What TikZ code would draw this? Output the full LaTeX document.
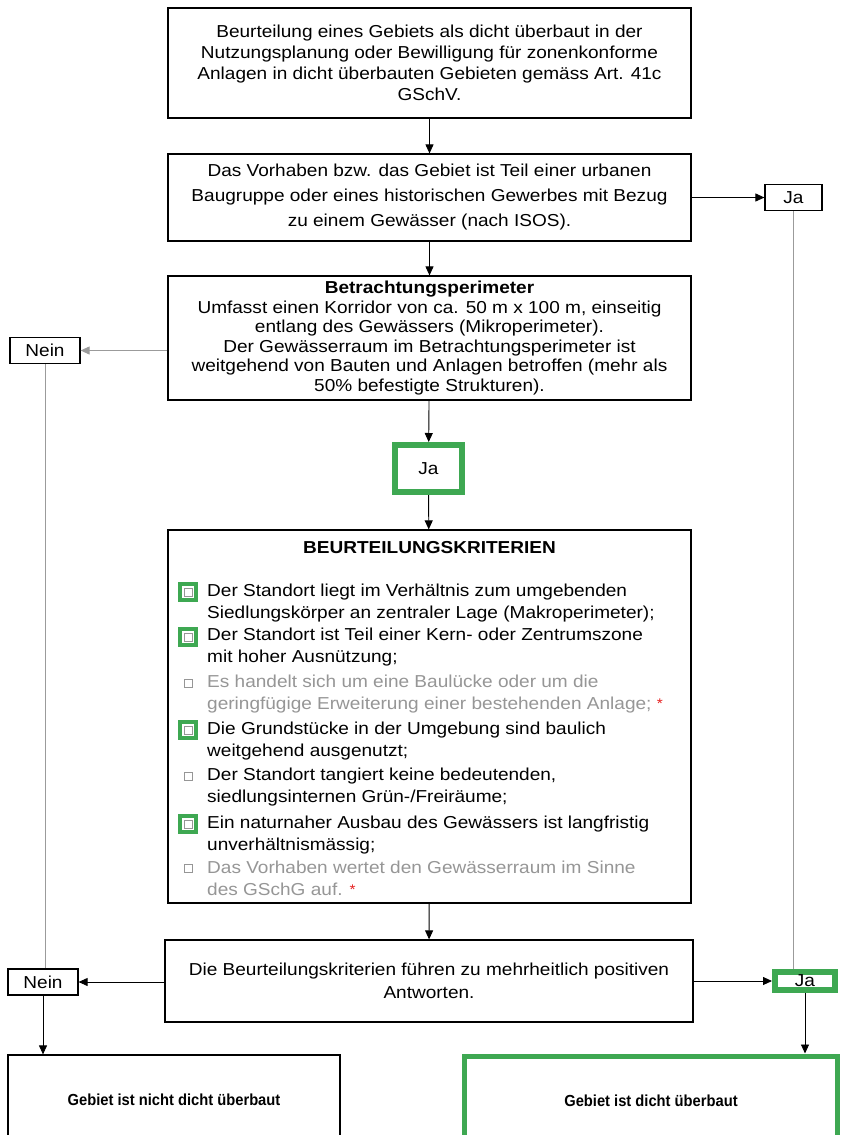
\documentclass[tikz,border=0pt]{standalone}
\usepackage{fontspec}
\setmainfont[FakeStretch=1.1]{Liberation Sans}
\newfontfamily\ergebnisfont[FakeStretch=0.92]{Liberation Sans}
\usetikzlibrary{arrows.meta, positioning, calc}
\definecolor{kritgruen}{RGB}{62,168,82}
\definecolor{kritgrau}{RGB}{150,150,150}
\definecolor{liniengrau}{RGB}{155,155,155}
\definecolor{sternrot}{RGB}{230,30,30}
\newcommand{\stern}{\textcolor{sternrot}{\raisebox{1pt}{\fontsize{14}{14}\selectfont *}}}

\tikzset{
  zeilen/.style={font=\fontsize{17.3}{#1}\selectfont},
  flowbox/.style={draw, line width=1.2pt, minimum width=523pt, align=center, inner sep=0pt},
  antwort/.style={draw, line width=1.2pt, minimum width=#1, minimum height=26pt, inner sep=0pt},
  gruenrand/.style={draw=kritgruen, line width=#1},
  ergebnis/.style={minimum height=90pt, font=\ergebnisfont\fontsize{16}{20}\selectfont\bfseries},
  pfeil/.style={-{Triangle[length=9pt,width=8pt]}, line width=0.9pt},
  kriterium/.style={anchor=west, align=left, inner sep=0pt, zeilen=22},
}

\begin{document}
\begin{tikzpicture}[x=1pt, y=-1pt, zeilen=21]
  \path[use as bounding box, fill=white] (0,0) rectangle (843,1135);

  % Fragen
  \node[flowbox, minimum height=110pt] (frage1) at (429.5,63)
    {Beurteilung eines Gebiets als dicht überbaut in der\\
     Nutzungsplanung  oder Bewilligung für zonenkonforme\\
     Anlagen in dicht überbauten Gebieten gemäss Art. 41c\\
     GSchV.};
  \node[flowbox, minimum height=87pt, zeilen=25] (frage2) at (429.5,197.5)
    {Das Vorhaben bzw. das Gebiet ist Teil einer urbanen\\
     Baugruppe oder eines historischen Gewerbes mit Bezug\\
     zu einem Gewässer (nach ISOS).};
  \node[flowbox, minimum height=124pt, zeilen=19.6] (perimeter) at (429.5,338)
    {\textbf{Betrachtungsperimeter}\\
     Umfasst einen Korridor von ca. 50 m x 100 m, einseitig\\
     entlang des Gewässers (Mikroperimeter).\\
     Der Gewässerraum im Betrachtungsperimeter ist\\
     weitgehend von Bauten und Anlagen betroffen (mehr als\\
     50\% befestigte Strukturen).};
  \node[flowbox, minimum height=373pt] (kriterien) at (429.5,716.5) {};
  \node[inner sep=0pt, font=\fontsize{17.3}{21}\selectfont\bfseries] (kriterientitel) at (429.5,548) {BEURTEILUNGSKRITERIEN};
  \node[flowbox, minimum width=528pt, minimum height=82pt, zeilen=23] (frage3) at (429,981)
    {Die Beurteilungskriterien führen zu mehrheitlich positiven\\
     Antworten.};

  % Antworten
  \node[antwort=57pt] (ja1) at (793.5,197.5) {Ja};
  \node[antwort=70pt] (nein1) at (45,350.5) {Nein};
  \node[gruenrand=6pt, minimum width=67pt, minimum height=47pt, inner sep=0pt] (ja2) at (428.5,468.5) {Ja};
  \node[antwort=70pt] (nein2) at (43,982) {Nein};
  \node[gruenrand=6pt, minimum width=60pt, minimum height=18pt, inner sep=0pt] (ja3) at (805,981) {Ja};

  % Ergebnis
  \node[draw, line width=1.2pt, minimum width=332pt, ergebnis] (nichtdicht) at (174,1100) {Gebiet ist nicht dicht überbaut};
  \node[gruenrand=5pt, minimum width=373pt, ergebnis] (dicht) at (651,1101) {Gebiet ist dicht überbaut};

  % Kriterien
  \node[kriterium] (krit1) at (207,603) {Der Standort liegt im Verhältnis zum  umgebenden\\Siedlungskörper an zentraler Lage (Makroperimeter);};
  \node[kriterium] (krit2) at (207,647.5) {Der Standort ist Teil einer Kern- oder Zentrumszone\\mit hoher Ausnützung;};
  \node[kriterium, text=kritgrau] (krit3) at (207,694) {Es handelt sich um eine Baulücke oder um die\\geringfügige Erweiterung einer bestehenden Anlage; \stern};
  \node[kriterium] (krit4) at (207,741) {Die Grundstücke in der Umgebung  sind baulich\\weitgehend ausgenutzt;};
  \node[kriterium] (krit5) at (207,787.5) {Der Standort tangiert keine bedeutenden,\\siedlungsinternen Grün-/Freiräume;};
  \node[kriterium] (krit6) at (207,835) {Ein naturnaher Ausbau des Gewässers ist langfristig\\unverhältnismässig;};
  \node[kriterium, text=kritgrau] (krit7) at (207,878.5) {Das Vorhaben wertet den Gewässerraum im Sinne\\des GSchG auf. \stern};

  % Kaestchen
  \foreach \k/\y in {1/592, 2/637, 4/730, 6/824}
    \fill[kritgruen] (178,\y-10) rectangle (198,\y+10);
  \foreach \y in {592, 637, 683, 730, 776, 824, 868} {
    \fill[white] (182,\y-6) rectangle (194,\y+6);
    \draw[kritgrau, line width=0.8pt] (184,\y-4) rectangle (192,\y+4);
  }

  % Verbindungen
  \draw[pfeil] (frage1) -- (frage2);
  \draw[pfeil] (frage2) -- (perimeter);
  \draw[pfeil] (frage2.east) -- (ja1.west);
  \draw[pfeil, liniengrau] (perimeter.west |- nein1) -- (nein1.east);
  \draw[pfeil] (perimeter) -- (ja2);
  \draw[pfeil] (ja2) -- (kriterien);
  \draw[pfeil] (kriterien) -- (frage3);
  \draw[pfeil] (frage3.west |- nein2) -- (nein2.east);
  \draw[pfeil] (frage3.east) -- (ja3.west);
  \draw[liniengrau, line width=0.9pt] (nein1.south) -- (nein1.south |- nein2.north);
  \draw[liniengrau, line width=0.9pt] (ja1.south) -- (ja1.south |- ja3.north);
  \draw[pfeil] (nein2.south) -- (nein2.south |- nichtdicht.north);
  \draw[pfeil] (ja3.south) -- (ja3.south |- dicht.north);
\end{tikzpicture}
\end{document}
